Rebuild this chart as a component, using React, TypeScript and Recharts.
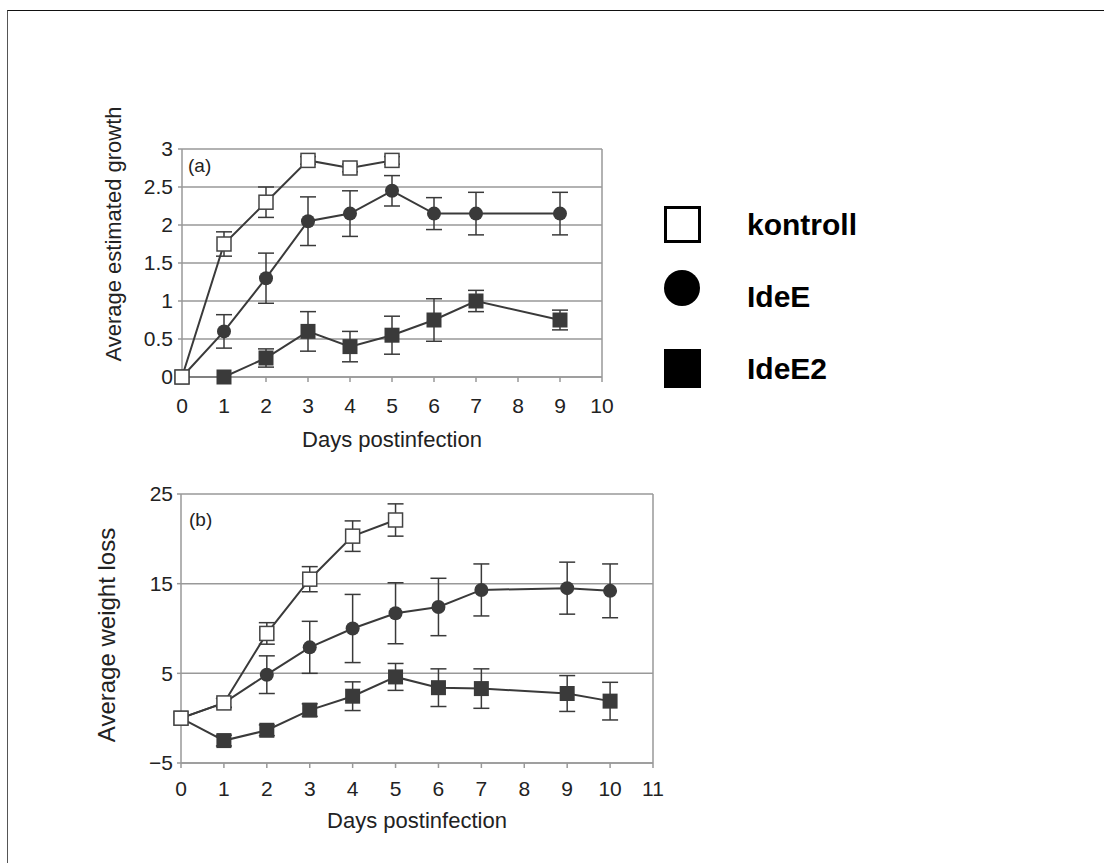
import React from 'react'
import { LineChart, Line, XAxis, YAxis, CartesianGrid, ErrorBar, ReferenceLine, Label } from 'recharts'

// (a) estimated growth
const daysA = [0, 1, 2, 3, 4, 5, 6, 7, 9]
const kontrollA = [0, 1.75, 2.3, 2.85, 2.75, 2.85]
const kontrollAErr = [0, 0.16, 0.2, 0.05, 0.05, 0.05]
const ideEA = [0, 0.6, 1.3, 2.05, 2.15, 2.45, 2.15, 2.15, 2.15]
const ideEAErr = [0, 0.22, 0.33, 0.32, 0.3, 0.2, 0.21, 0.28, 0.28]
const ideE2A = [0, 0, 0.25, 0.6, 0.4, 0.55, 0.75, 1.0, 0.75]
const ideE2AErr = [0, 0, 0.12, 0.26, 0.2, 0.25, 0.28, 0.14, 0.13]
const xTicksA = [0, 1, 2, 3, 4, 5, 6, 7, 8, 9, 10]
const yTicksA = [0, 0.5, 1, 1.5, 2, 2.5, 3]

// (b) weight loss
const daysB = [0, 1, 2, 3, 4, 5, 6, 7, 9, 10]
const kontrollB = [0, 1.7, 9.45, 15.5, 20.3, 22.1]
const kontrollBErr = [0, 0.5, 1.2, 1.4, 1.7, 1.8]
const ideEB = [0, 1.7, 4.85, 7.9, 10, 11.7, 12.4, 14.3, 14.5, 14.2]
const ideEBErr = [0, 0.5, 2.1, 2.9, 3.8, 3.4, 3.2, 2.9, 2.9, 3.0]
const ideE2B = [0, -2.5, -1.35, 0.9, 2.45, 4.6, 3.4, 3.3, 2.75, 1.9]
const ideE2BErr = [0, 0.6, 0.6, 0.7, 1.6, 1.5, 2.1, 2.2, 2.0, 2.1]
const xTicksB = [0, 1, 2, 3, 4, 5, 6, 7, 8, 9, 10, 11]
const yTicksB = [-5, 5, 15, 25]

const seriesNames = ['kontroll', 'IdeE', 'IdeE2']

const build = (days: number[], k: number[], ke: number[], e: number[], ee: number[], e2: number[], e2e: number[]) =>
  days.map((d, i) => ({
    day: d,
    kontroll: i < k.length ? k[i] : null,
    kontrollErr: i < ke.length ? ke[i] : 0,
    IdeE: e[i],
    IdeEErr: ee[i],
    IdeE2: e2[i],
    IdeE2Err: e2e[i],
  }))

const dataA = build(daysA, kontrollA, kontrollAErr, ideEA, ideEAErr, ideE2A, ideE2AErr)
const dataB = build(daysB, kontrollB, kontrollBErr, ideEB, ideEBErr, ideE2B, ideE2BErr)

const INK = '#3a3a3a'
const GRID = '#999'
const TXT = '#222'
const FONT = '"Liberation Sans", Arial, sans-serif'

const openSquare = (p: any) =>
  p.cy == null ? <g key={p.key} /> : (
    <rect key={p.key} x={p.cx - 7} y={p.cy - 7} width={14} height={14} fill="#fff" stroke="#444" strokeWidth={1.5} />
  )
const filledCircle = (p: any) =>
  p.cy == null ? <g key={p.key} /> : <circle key={p.key} cx={p.cx} cy={p.cy} r={7} fill={INK} />
const filledSquare = (p: any) =>
  p.cy == null ? <g key={p.key} /> : (
    <rect key={p.key} x={p.cx - 7.5} y={p.cy - 7.5} width={15} height={15} fill={INK} />
  )

const yTitle = (text: string, x: number, y: number, size: number) => () => (
  <text x={x} y={y} transform={`rotate(-90, ${x}, ${y})`} textAnchor="middle" dominantBaseline="central"
    fontSize={size} fill={TXT} fontFamily={FONT}>{text}</text>
)

const series = () => [
  <Line key="e2" dataKey="IdeE2" name="IdeE2" stroke={INK} strokeWidth={2} dot={filledSquare} isAnimationActive={false}>
    <ErrorBar dataKey="IdeE2Err" width={8} stroke={INK} strokeWidth={1.5} />
  </Line>,
  <Line key="e" dataKey="IdeE" name="IdeE" stroke={INK} strokeWidth={2} dot={filledCircle} isAnimationActive={false}>
    <ErrorBar dataKey="IdeEErr" width={8} stroke={INK} strokeWidth={1.5} />
  </Line>,
  <Line key="k" dataKey="kontroll" name="kontroll" stroke={INK} strokeWidth={2} dot={openSquare} isAnimationActive={false}>
    <ErrorBar dataKey="kontrollErr" width={8} stroke={INK} strokeWidth={1.5} />
  </Line>,
]

const tickStyle = { fill: TXT, fontSize: 21 }

export default function App() {
  return (
    <div style={{ position: 'absolute', left: 0, top: 0, width: 1104, height: 863, background: '#fff', overflow: 'hidden', fontFamily: FONT }}>
      <div style={{ position: 'absolute', left: 7, top: 10, right: -5, bottom: -5, borderTop: '1.5px solid #111', borderLeft: '1.5px solid #555' }} />

      <div style={{ position: 'absolute', left: 0, top: 0 }}>
        <LineChart width={660} height={470} data={dataA} margin={{ top: 149, right: 58, left: 122, bottom: 23 }}>
          <CartesianGrid vertical={false} stroke={GRID} strokeWidth={1.5} />
          <XAxis dataKey="day" type="number" domain={[0, 10]} ticks={xTicksA} height={70} tickSize={5} tickMargin={16}
            stroke={GRID} strokeWidth={1.5} tick={tickStyle} interval={0}>
            <Label value="Days postinfection" position="insideBottom" offset={0} fontSize={22} fill={TXT} />
          </XAxis>
          <YAxis type="number" domain={[0, 3]} ticks={yTicksA} width={60} tickSize={4} tickMargin={5}
            stroke={GRID} strokeWidth={1.5} tick={tickStyle} interval={0}>
            <Label content={yTitle('Average estimated growth', 113, 234, 22)} />
          </YAxis>
          <ReferenceLine x={10} stroke={GRID} strokeWidth={1.5} />
          {series()}
          <text x={188} y={172} fontSize={19} fill={TXT} fontFamily={FONT}>(a)</text>
        </LineChart>
      </div>

      <div style={{ position: 'absolute', left: 0, top: 420 }}>
        <LineChart width={700} height={440} data={dataB} margin={{ top: 74, right: 47, left: 121, bottom: 22 }}>
          <CartesianGrid vertical={false} stroke={GRID} strokeWidth={1.5} />
          <XAxis dataKey="day" type="number" domain={[0, 11]} ticks={xTicksB} height={75} tickSize={5} tickMargin={13}
            stroke={GRID} strokeWidth={1.5} tick={tickStyle} interval={0}>
            <Label value="Days postinfection" position="insideBottom" offset={10} fontSize={22} fill={TXT} />
          </XAxis>
          <YAxis type="number" domain={[-5, 25]} ticks={yTicksB} width={60} tickSize={4} tickMargin={4}
            stroke={GRID} strokeWidth={1.5} tick={tickStyle} interval={0}
            tickFormatter={(v: number) => (v < 0 ? '\u2212' + Math.abs(v) : String(v))}>
            <Label content={yTitle('Average weight loss', 106, 215, 24)} />
          </YAxis>
          <ReferenceLine x={11} stroke={GRID} strokeWidth={1.5} />
          {series()}
          <text x={189} y={106} fontSize={19} fill={TXT} fontFamily={FONT}>(b)</text>
        </LineChart>
      </div>

      {/* shared legend */}
      <svg width={260} height={200} style={{ position: 'absolute', left: 663, top: 198, fontFamily: FONT }}>
        <rect x={2.5} y={9.5} width={34} height={34} fill="#fff" stroke="#000" strokeWidth={3} />
        <circle cx={19} cy={90} r={18} fill="#000" />
        <rect x={1} y={151} width={37} height={39} fill="#000" />
        {seriesNames.map((n, i) => (
          <text key={n} x={84} y={37 + i * 72} fontSize={30} fontWeight="bold" fill="#000">{n}</text>
        ))}
      </svg>
    </div>
  )
}
